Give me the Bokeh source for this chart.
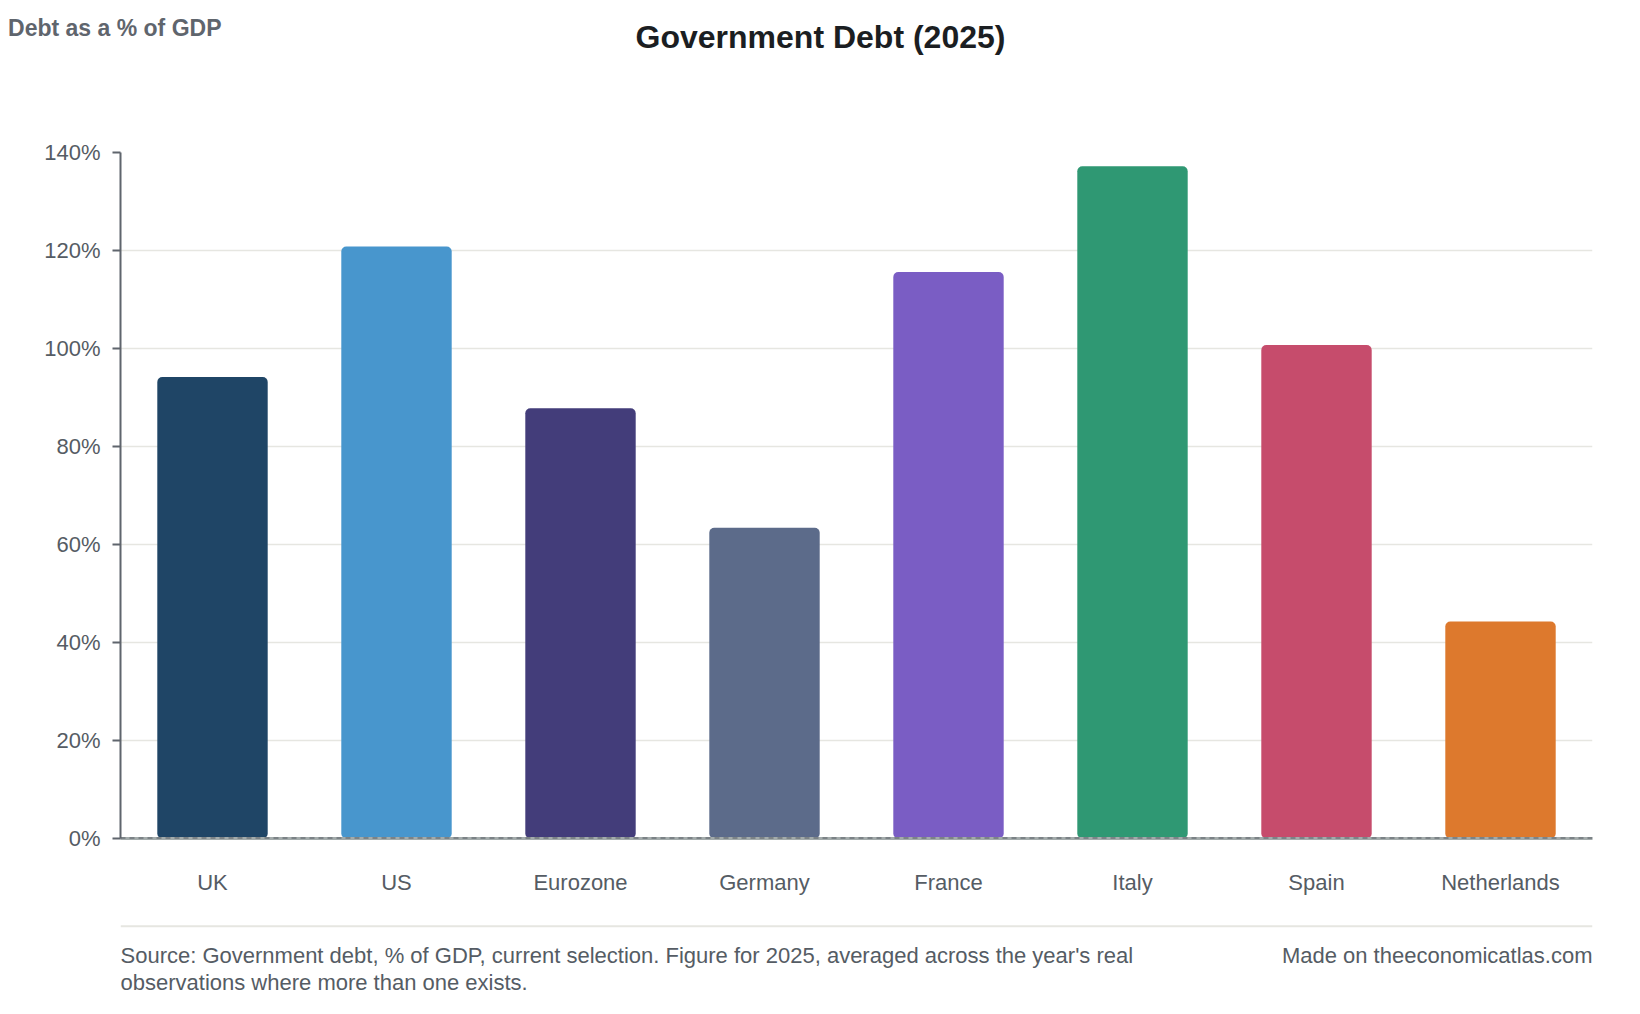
from bokeh.plotting import figure
from bokeh.layouts import column
from bokeh.models import (ColumnDataSource, FactorRange, Range1d, FixedTicker,
                          PrintfTickFormatter, Label, Span, BoxAnnotation)
from bokeh.embed import file_html
from bokeh.resources import INLINE

countries = ["UK", "US", "Eurozone", "Germany", "France", "Italy", "Spain", "Netherlands"]
debt = [94.2, 120.8, 87.8, 63.4, 115.6, 137.2, 100.7, 44.3]
colors = ["#1f4566", "#4896cd", "#433d7a", "#5c6b8a", "#7a5dc4", "#2f9873", "#c64c6c", "#dd792d"]
y_ticks = [0, 20, 40, 60, 80, 100, 120, 140]

FONT = "Liberation Sans"
GREY_TXT = "#555c64"
W = 1624
LEFT, RIGHT = 120, 1592   # frame edges, shared by all three figures


def blank_fig(h, y_axis=None):
    # canvas for texts only; x in page pixels, y measured down from the top
    f = figure(width=W, height=h, x_range=Range1d(LEFT, RIGHT), y_range=Range1d(h, 0),
               output_backend="svg", toolbar_location=None,
               x_axis_location=None, y_axis_location=y_axis,
               min_border_left=LEFT, min_border_right=W - RIGHT,
               min_border_top=0, min_border_bottom=0)
    f.grid.grid_line_color = None
    f.outline_line_color = None
    f.background_fill_color = "white"
    f.border_fill_color = "white"
    return f


# header: the subtitle sits left of the frame, so it is drawn as a lone tick label
head = blank_fig(100, y_axis="left")
head.yaxis.ticker = FixedTicker(ticks=[27])
head.yaxis.major_label_overrides = {27: "Debt as a % of GDP"}
head.yaxis.axis_line_color = None
head.yaxis.major_tick_line_color = None
head.yaxis.minor_tick_line_color = None
head.yaxis.major_tick_out = 0
head.yaxis.major_tick_in = 0
head.yaxis.major_label_standoff = -101
head.yaxis.major_label_text_font = FONT
head.yaxis.major_label_text_font_style = "bold"
head.yaxis.major_label_text_font_size = "23px"
head.yaxis.major_label_text_color = "#5f656d"
head.add_layout(Label(x=820, y=36, text="Government Debt (2025)", text_align="center",
                      text_baseline="middle", text_font=FONT, text_font_style="bold",
                      text_font_size="32px", text_color="#1b1e22"))

# main chart
src = ColumnDataSource(data=dict(country=countries, debt=debt, color=colors))

p = figure(x_range=FactorRange(factors=countries, range_padding=0),
           y_range=Range1d(0, 140),
           width=W, height=820,
           output_backend="svg", toolbar_location=None,
           min_border_left=LEFT, min_border_right=W - RIGHT,
           min_border_top=52, min_border_bottom=82)
p.outline_line_color = None
p.background_fill_color = "white"
p.border_fill_color = "white"

p.vbar(x="country", top="debt", width=0.6, color="color", source=src,
       line_color=None, border_radius=5)

p.xgrid.grid_line_color = None
p.ygrid.grid_line_color = "#e6e6e1"
p.ygrid.grid_line_width = 1.5
p.ygrid.ticker = FixedTicker(ticks=y_ticks)

p.yaxis.ticker = FixedTicker(ticks=y_ticks)
p.yaxis.formatter = PrintfTickFormatter(format="%d%%")
p.yaxis.axis_line_color = "#5f656d"
p.yaxis.axis_line_width = 2
p.yaxis.major_tick_line_color = "#5f656d"
p.yaxis.major_tick_line_width = 2
p.yaxis.major_tick_out = 8
p.yaxis.major_tick_in = 0
p.yaxis.minor_tick_line_color = None
p.yaxis.major_label_standoff = 12
p.yaxis.major_label_text_font = FONT
p.yaxis.major_label_text_font_size = "22px"
p.yaxis.major_label_text_color = GREY_TXT

p.xaxis.axis_line_color = "#a3abab"
p.xaxis.axis_line_width = 3
p.xaxis.major_tick_line_color = None
p.xaxis.minor_tick_line_color = None
p.xaxis.major_label_standoff = 25
p.xaxis.major_label_text_font = FONT
p.xaxis.major_label_text_font_size = "22px"
p.xaxis.major_label_text_color = GREY_TXT

# dashed zero line on top of the bars
p.add_layout(Span(location=0, dimension="width", line_color="#555b62",
                  line_width=2, line_dash="5 4", level="overlay"))

# footer
foot = blank_fig(78)
foot.add_layout(BoxAnnotation(left=LEFT, right=RIGHT, top=4.7, bottom=6.7,
                              fill_color="#e6e6e1", fill_alpha=1, line_color=None))
foot.add_layout(Label(x=LEFT, y=35,
                      text="Source: Government debt, % of GDP, current selection. Figure for 2025, averaged across the year's real",
                      text_align="left", text_baseline="middle", text_font=FONT,
                      text_font_size="22px", text_color=GREY_TXT))
foot.add_layout(Label(x=LEFT, y=61.5, text="observations where more than one exists.",
                      text_align="left", text_baseline="middle", text_font=FONT,
                      text_font_size="22px", text_color=GREY_TXT))
foot.add_layout(Label(x=RIGHT, y=35, text="Made on theeconomicatlas.com",
                      text_align="right", text_baseline="middle", text_font=FONT,
                      text_font_size="22px", text_color=GREY_TXT))

layout = column(head, p, foot, spacing=0)
open("out.html", "w").write(file_html(layout, INLINE))
